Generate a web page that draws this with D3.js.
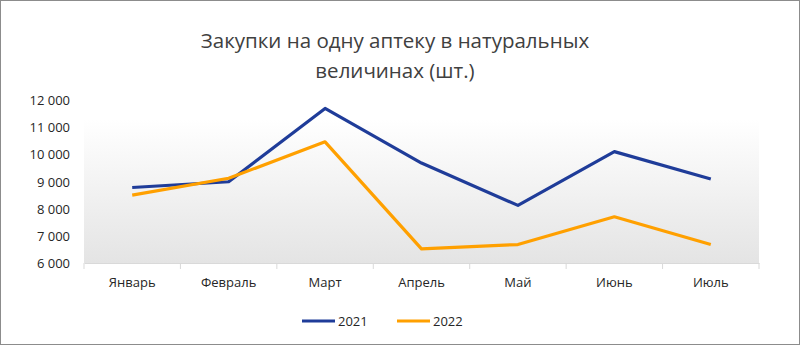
<!DOCTYPE html>
<html><head><meta charset="utf-8">
<script src="https://cdn.jsdelivr.net/npm/d3@7"></script>
<style>body{margin:0;background:#fff}svg{display:block}</style>
</head><body>
<script>
const categories = ["Январь","Февраль","Март","Апрель","Май","Июнь","Июль"];
const series2021 = [8780, 8990, 11690, 9680, 8120, 10100, 9090];
const series2022 = [8500, 9120, 10460, 6520, 6680, 7700, 6680];
const seriesNames = ["2021","2022"];
const yTicks = [6000,7000,8000,9000,10000,11000,12000];
const titleLines = ["Закупки на одну аптеку в натуральных","величинах (шт.)"];

const W=800,H=345;
const colors=["#1f3c99","#ffa000"];
const svg=d3.select("body").append("svg").attr("width",W).attr("height",H);
const font="'Open Sans', sans-serif";
svg.append("rect").attr("x",0.5).attr("y",0.5).attr("width",W-1).attr("height",H-1)
  .attr("fill","#fff").attr("stroke","#8c8c8c");

const x=d3.scaleBand().domain(categories).range([84,759]);
const y=d3.scaleLinear().domain([6000,12000]).range([263,100]);

const defs=svg.append("defs");
const g=defs.append("linearGradient").attr("id","bg").attr("x1",0).attr("y1",0).attr("x2",0).attr("y2",1);
g.append("stop").attr("offset","0%").attr("stop-color","#ffffff");
g.append("stop").attr("offset","12%").attr("stop-color","#ffffff");
g.append("stop").attr("offset","100%").attr("stop-color","#e4e4e4");
svg.append("rect").attr("x",84).attr("y",y(12000)).attr("width",759-84).attr("height",y(6000)-y(12000)).attr("fill","url(#bg)");

// title
svg.append("text").attr("x",395).attr("y",48).attr("text-anchor","middle")
  .attr("font-family",font).attr("font-size",20.5).attr("fill","#404040")
  .selectAll("tspan").data(titleLines).join("tspan").attr("x",395).attr("dy",(d,i)=>i?30:0).text(d=>d);

// y axis labels
const fmt=v=>d3.format(",")(v).replace(/,/g,"\u00a0");
svg.append("g").selectAll("text").data(yTicks).join("text")
  .attr("x",70).attr("y",d=>y(d)+5).attr("text-anchor","end")
  .attr("font-family",font).attr("font-size",13).attr("fill","#262626").text(fmt);

// x axis
const xa=svg.append("g").attr("transform",`translate(0,${y(6000)})`)
  .call(d3.axisBottom(x).tickSize(0).tickPadding(15));
xa.select(".domain").attr("stroke","#d9d9d9").attr("stroke-width",1.2);
xa.selectAll("text").attr("font-family",font).attr("font-size",13).attr("fill","#262626");
const bounds=categories.map(c=>x(c)).concat([759]);
xa.selectAll(".tk").data(bounds).join("line").attr("class","tk")
  .attr("x1",d=>d).attr("x2",d=>d).attr("y1",0).attr("y2",6).attr("stroke","#d9d9d9");

// lines
const line=d3.line().x((d,i)=>x(categories[i])+x.bandwidth()/2).y(d=>y(d));
[series2021,series2022].forEach((s,i)=>{
  svg.append("path").datum(s).attr("d",line).attr("fill","none")
    .attr("stroke",colors[i]).attr("stroke-width",3.2).attr("stroke-linejoin","round");
});

// legend
const lg=svg.append("g");
const lx=[302,397];
seriesNames.forEach((n,i)=>{
  lg.append("line").attr("x1",lx[i]).attr("x2",lx[i]+33).attr("y1",321).attr("y2",321)
    .attr("stroke",colors[i]).attr("stroke-width",3);
  lg.append("text").attr("x",lx[i]+36).attr("y",326).attr("font-family",font)
    .attr("font-size",13).attr("fill","#262626").text(n);
});
</script>
</body></html>
